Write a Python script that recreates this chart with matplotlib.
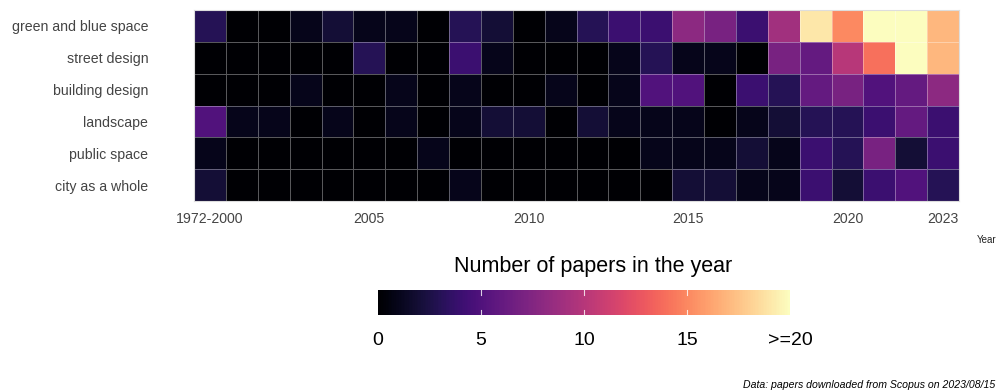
import numpy as np
import matplotlib
matplotlib.use("Agg")
import matplotlib.pyplot as plt

# Topic rows (top to bottom) and year columns
topics = ["green and blue space", "street design", "building design",
          "landscape", "public space", "city as a whole"]
years = ["1972-2000"] + [str(y) for y in range(2001, 2024)]
year_tick_labels = ["1972-2000", "2005", "2010", "2015", "2020", "2023"]

# Number of papers per year for each topic (values of 20 or more share the top colour)
green_blue = [3, 0, 0, 1, 2, 1, 1, 0, 3, 2, 0, 1, 3, 4, 4, 8, 7, 4, 9, 19, 15, 20, 20, 17]
street     = [0, 0, 0, 0, 0, 3, 0, 0, 4, 1, 0, 0, 0, 1, 3, 1, 1, 0, 7, 6, 10, 14, 20, 17]
building   = [0, 0, 0, 1, 0, 0, 1, 0, 1, 0, 0, 1, 0, 1, 5, 5, 0, 4, 3, 6, 7, 5, 6, 8]
landscape  = [5, 1, 1, 0, 1, 0, 1, 0, 1, 2, 2, 0, 2, 1, 1, 1, 0, 1, 2, 3, 3, 4, 6, 4]
public     = [1, 0, 0, 0, 0, 0, 0, 1, 0, 0, 0, 0, 0, 0, 1, 1, 1, 2, 1, 4, 3, 7, 2, 4]
city_whole = [2, 0, 0, 0, 0, 0, 0, 0, 1, 0, 0, 0, 0, 0, 0, 2, 2, 1, 1, 4, 2, 4, 5, 3]

cbar_ticks = [0, 5, 10, 15, 20]
cbar_labels = ["0", "5", "10", "15", ">=20"]

counts = np.array([green_blue, street, building, landscape, public, city_whole], dtype=float)

plt.rcParams["font.family"] = ["Liberation Sans", "DejaVu Sans"]

W, H = 997, 392
fig = plt.figure(figsize=(W / 100, H / 100), dpi=100)


def box(x0, y0, x1, y1):
    """Figure-fraction rectangle from pixel corners (top-left origin)."""
    return [x0 / W, 1 - y1 / H, (x1 - x0) / W, (y1 - y0) / H]


ax = fig.add_axes(box(194, 10, 959, 201))
mesh = ax.pcolormesh(np.arange(len(years) + 1), np.arange(len(topics) + 1), counts,
                     cmap="magma", vmin=0, vmax=20,
                     edgecolors=(1, 1, 1, 0.35), linewidth=0.6)
ax.set_xlim(0, len(years))
ax.set_ylim(len(topics), 0)

ax.set_yticks(np.arange(len(topics)) + 0.5)
ax.set_yticklabels(topics, fontsize=10.2, color="#444444")
ax.tick_params(axis="y", length=0, pad=33)

xpos = [years.index(lbl) + 0.5 for lbl in year_tick_labels]
ax.set_xticks(xpos)
ax.set_xticklabels(year_tick_labels, fontsize=10.2, color="#444444")
ax.tick_params(axis="x", length=0, pad=8)
for s in ax.spines.values():
    s.set_color("#dddddd")
    s.set_linewidth(0.8)

fig.text(996 / W, 1 - 243 / H, "Year", fontsize=7, ha="right", va="baseline", color="#222222")

# Colour bar
fig.text(593 / W, 1 - 272 / H, "Number of papers in the year", fontsize=15.5,
         ha="center", va="baseline", color="black")
cax = fig.add_axes(box(378, 290, 790, 315))
cbar = fig.colorbar(mesh, cax=cax, orientation="horizontal")
cbar.outline.set_visible(False)
cbar.set_ticks(cbar_ticks)
cbar.set_ticklabels(cbar_labels)
cax.tick_params(axis="x", length=0, pad=12, labelsize=14, labelcolor="black")
for t in cbar_ticks[1:-1]:
    cax.plot([t, t], [0, 0.2], color="white", lw=0.8, alpha=0.8, transform=cax.get_xaxis_transform())
    cax.plot([t, t], [0.8, 1], color="white", lw=0.8, alpha=0.8, transform=cax.get_xaxis_transform())

fig.text(995 / W, 1 - 388 / H, "Data: papers downloaded from Scopus on 2023/08/15",
         fontsize=7.6, style="italic", ha="right", va="baseline", color="black")

fig.savefig("out.png", dpi=100)
